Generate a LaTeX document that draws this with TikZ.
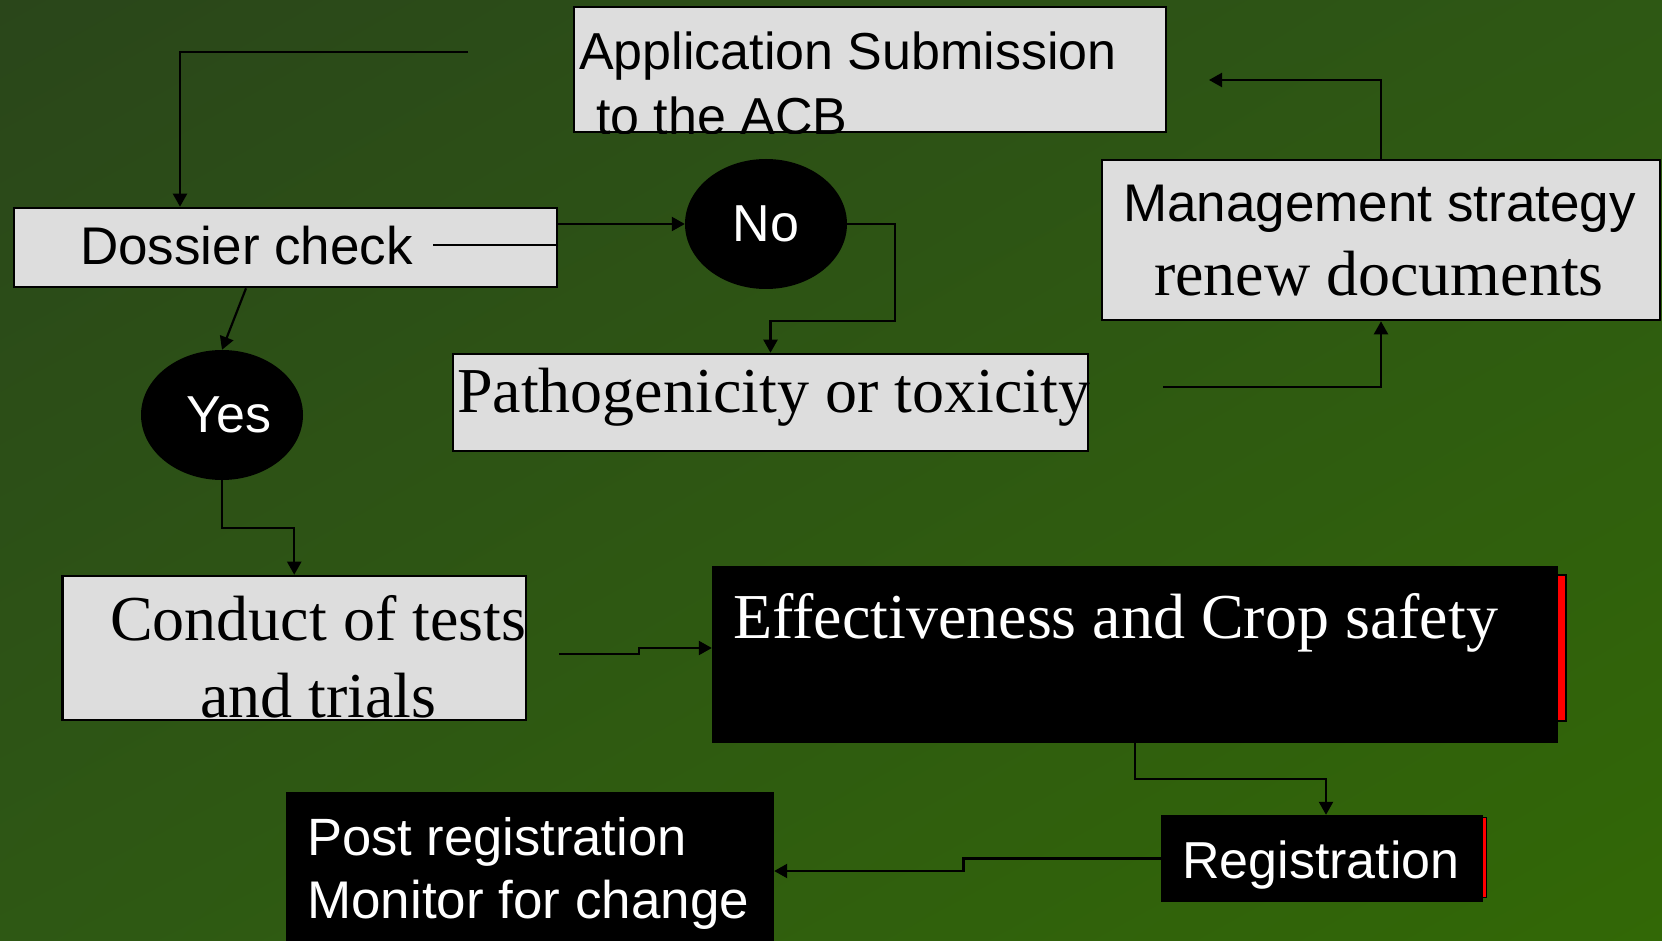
\documentclass[tikz,border=0pt]{standalone}
\usepackage{fontspec}
\setmainfont{Liberation Serif}
\setsansfont{Liberation Sans}
\usetikzlibrary{arrows.meta,shapes.geometric,shadings}
\definecolor{bgA}{RGB}{42,70,26}
\definecolor{bgB}{RGB}{46,88,20}
\definecolor{bgC}{RGB}{50,104,6}
\definecolor{boxgray}{RGB}{221,221,221}
\definecolor{stripred}{RGB}{255,0,0}
\begin{document}
\begin{tikzpicture}[x=1pt,y=-1pt,
  graybox/.style={draw=black,line width=2.6pt,fill=boxgray,rectangle,inner sep=0pt},
  blackbox/.style={fill=black,rectangle,inner sep=0pt},
  blackoval/.style={fill=black,ellipse,inner sep=0pt,minimum width=162pt,minimum height=130pt,
    text=white,font=\fontsize{52}{62}\selectfont\sffamily},
  redstrip/.style={draw=black,line width=2pt,fill=stripred},
  sanstxt/.style={font=\fontsize{52}{62}\selectfont\sffamily,anchor=base west,inner sep=0pt},
  seriftxt/.style={font=\fontsize{64}{76}\selectfont\rmfamily,anchor=base west,inner sep=0pt},
  conn/.style={draw=black,line width=2.2pt},
  arr/.style={conn,-{Triangle[length=13pt,width=14pt]}}]
% background
\shade[upper left=bgA,upper right=bgB,lower left=bgB,lower right=bgC] (0,0) rectangle (1662,941);
\useasboundingbox (0,0) rectangle (1662,941);

% boxes
\node[graybox,minimum width=592pt,minimum height=125pt] (app) at (870,69.5) {};
\begin{scope}
  \clip (app.north west) rectangle (app.south east);
  \node[sanstxt] (apptxt1) at (579,70) {Application Submission};
  \node[sanstxt] (apptxt2) at (596,135) {to the ACB};
\end{scope}

\node[graybox,minimum width=543pt,minimum height=79pt] (dos) at (285.5,247.5) {};
\node[sanstxt,font=\fontsize{53}{63}\selectfont\sffamily] (dostxt) at (80,265) {Dossier check};

\node[blackoval] (no) at (766,224) {No};
\node[blackoval] (yes) at (222,415) {\hspace*{14pt}Yes};

\node[graybox,minimum width=635pt,minimum height=97pt] (patho) at (770.5,402.5) {};
\node[seriftxt] (pathotxt) at (457,412) {Pathogenicity or toxicity};

\node[graybox,minimum width=558pt,minimum height=160pt] (mgmt) at (1381,240) {};
\node[sanstxt,font=\fontsize{53}{63}\selectfont\sffamily] (mgmttxt1) at (1123,222) {Management strategy};
\node[seriftxt] (mgmttxt2) at (1154,295) {renew documents};

\node[graybox,minimum width=463.5pt,minimum height=144pt] (cond) at (294.25,648) {};
\node[seriftxt] (condtxt1) at (110,640) {Conduct of tests};
\node[seriftxt] (condtxt2) at (200,717) {and trials};

\draw[redstrip] (1500,575) rectangle (1566,721);
\node[blackbox,minimum width=846pt,minimum height=177pt] (eff) at (1135,654.5) {};
\node[seriftxt,text=white] (efftxt) at (733,638) {Effectiveness and Crop safety};

\draw[redstrip,line width=1pt] (1470,817) rectangle (1486,897);
\node[blackbox,minimum width=322pt,minimum height=87pt] (reg) at (1322,858.5) {};
\node[sanstxt,text=white] (regtxt) at (1182,878) {Registration};

\node[blackbox,minimum width=488pt,minimum height=170pt] (post) at (530,877) {};
\node[sanstxt,text=white,font=\fontsize{52.5}{63}\selectfont\sffamily] (posttxt1) at (307,855) {Post registration};
\node[sanstxt,text=white,font=\fontsize{53}{63}\selectfont\sffamily] (posttxt2) at (307,918) {Monitor for change};

% connector coordinates
\coordinate (c4) at (468,52);
\coordinate (dl) at (433,245);
\coordinate (c1) at (895,321);
\coordinate (c2) at (1163,387);
\coordinate (c3) at (1209,80);
\coordinate (c6) at (222,528);
\coordinate (c7) at (559,654);
\coordinate (c8) at (639,648);
\coordinate (c10) at (963.5,871);

% connectors
\draw[arr] (c4) -| ([xshift=-105.5pt]dos.north);
\draw[conn] (dl) -- (dos.east |- dl);
\draw[arr] (dos.east |- no.west) -- (no.west);
\draw[arr] (no.east) -| (c1) -| (patho.north);
\draw[arr] (c2) -| (mgmt.south);
\draw[arr] (mgmt.north) |- (c3);
\draw[arr] ([xshift=-39.5pt]dos.south) -- (yes.north);
\draw[arr] (yes.south) -- (c6) -| (cond.north);
\draw[arr] (c7) -| (c8) -- (eff.west |- c8);
\draw[arr] (eff.south) -- ++(0,36) -| ([xshift=4pt]reg.north);
\draw[arr] (reg.west) -| (c10) -- (post.east |- c10);
\end{tikzpicture}
\end{document}
